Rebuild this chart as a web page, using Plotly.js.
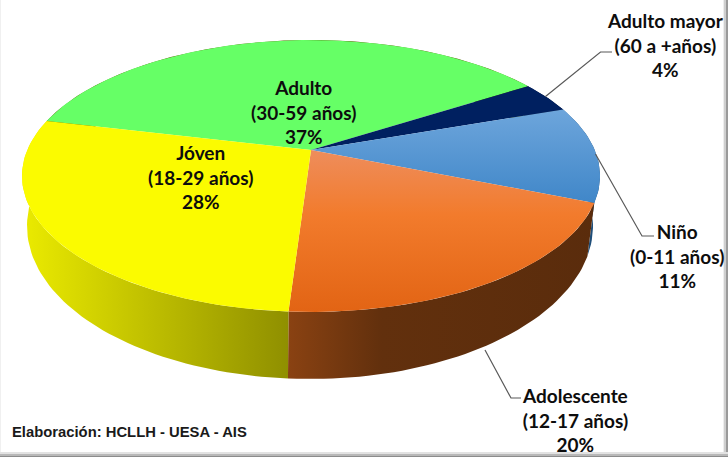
<!DOCTYPE html>
<html><head><meta charset="utf-8">
<script src="https://cdn.plot.ly/plotly-3.0.1.min.js"></script>
<style>html,body{margin:0;padding:0;background:#fff;overflow:hidden}</style>
</head><body><div id="chart" style="width:728px;height:457px"></div>
<script>
// Data, clockwise from the first slice
const categories = ["Adulto mayor", "Niño", "Adolescente", "Jóven", "Adulto"];
const ageRanges  = ["(60 a +años)", "(0-11 años)", "(12-17 años)", "(18-29 años)", "(30-59 años)"];
const shares     = [3.7, 11.45, 19.9, 27.7, 37.25];

// Styles
const topFill = [
  {c:[[0,"#002060"],[1,"#002060"]]},
  {c:[[0,"#6ea6dc"],[1,"#3f86c8"]], s:108, e:205, t:"vertical"},
  {c:[[0,"#ee8d5c"],[0.4,"#f27b2c"],[1,"#e26414"]], s:150, e:312, t:"vertical"},
  {c:[[0,"#fbfb00"],[1,"#fbfb00"]]},
  {c:[[0,"#66ff66"],[1,"#66ff66"]]}
];
const wallFill = [
  {c:[[0,"#001030"],[1,"#001030"]]},
  {c:[[0,"#1f4e79"],[1,"#1f4e79"]]},
  {c:[[0,"#8a4212"],[0.3,"#62300d"],[1,"#5a2c0c"]], s:288, e:600, t:"horizontal"},
  {c:[[0,"#eaea00"],[1,"#8f8f00"]], s:25, e:289, t:"horizontal"},
  {c:[[0,"#5a5a00"],[1,"#5a5a00"]]}
];
const labelX = [665, 677, 575, 200, 303];
const labelY = [45, 256, 420, 177, 112];
const leaders = [
  {x:[545.5,600.5,612], y:[96.5,52,52]},
  {x:[595.5,642,654], y:[154,236,236]},
  {x:[485,511,521], y:[350,398,398]}
];

// Pie geometry: a tilted disc, projected with perspective
const startDeg = 57.5, k = 0.191;
const topDisc = {cx:311, cy:150, a:283.7, b:131};
const botDisc = {cx:310, cy:196.8, a:277.8, b:147.4};
function project(d, deg){
  const t = deg*Math.PI/180, u = Math.sin(t), v = Math.cos(t), w = 1 + k*v;
  return [d.cx + d.a*u/w, d.cy - d.b*v/w];
}
function arc(d, from, to){
  const n = Math.max(2, Math.ceil(Math.abs(to-from)/1.5)), pts = [];
  for(let i=0;i<=n;i++) pts.push(project(d, from + (to-from)*i/n));
  return pts;
}
function fillTrace(pts, f){
  const out = {type:"scatter", mode:"lines", x:pts.map(p=>p[0]), y:pts.map(p=>p[1]),
    fill:"toself", line:{width:0}, hoverinfo:"skip", showlegend:false, fillcolor:f.c[0][1]};
  if(f.t) out.fillgradient = {type:f.t, colorscale:f.c, start:f.s, stop:f.e};
  return out;
}
const total = shares.reduce((a,b)=>a+b,0);
let angle = startDeg;
const spans = shares.map(s=>{const a=[angle, angle+s/total*360]; angle=a[1]; return a;});

const traces = [];
// walls
[4,0,1,2,3].forEach(i=>{
  const [a,b] = spans[i];
  traces.push(fillTrace(arc(topDisc,a,b).concat(arc(botDisc,b,a)), wallFill[i]));
});
// top faces
[4,0,1,2,3].forEach(i=>{
  const [a,b] = spans[i];
  traces.push(fillTrace([[topDisc.cx,topDisc.cy]].concat(arc(topDisc,a,b)), topFill[i]));
});
// leader lines
leaders.forEach(l=>traces.push({type:"scatter",mode:"lines",x:l.x,y:l.y,
  line:{color:"#595959",width:1.2},hoverinfo:"skip",showlegend:false}));

const annotations = categories.map((c,i)=>({
  x:labelX[i], y:labelY[i], xref:"x", yref:"y", showarrow:false, align:"center",
  xanchor:"center", yanchor:"middle",
  text:[c, ageRanges[i], Math.round(shares[i])+"%"].map(t=>"<b>"+t+"</b>").join("<br>"),
  font:{family:"Lato, sans-serif", size:19, color:"#0d0d0d"}
}));
annotations.push({x:9.5,y:432,xref:"x",yref:"y",showarrow:false,xanchor:"left",yanchor:"middle",
  text:"<b>Elaboración: HCLLH - UESA - AIS</b>",
  font:{family:"Liberation Sans, Arial, sans-serif",size:14.8,color:"#1a1a1a"}});

const frame = [
  [0.5,0,0.5,457,"#f0f0f0",1],
  [727,0,727,457,"#9a9a9a",2],
  [725,0,725,457,"#cfcfcf",2],
  [723.5,0,723.5,457,"#eeeeee",1],
  [0,456.5,728,456.5,"#8c8c8c",1],
  [0,455,728,455,"#b8b8b8",2],
  [0,453,728,453,"#e2e2e2",2]
].map(f=>({type:"line",xref:"x",yref:"y",x0:f[0],y0:f[1],x1:f[2],y1:f[3],layer:"above",
  line:{color:f[4],width:f[5]}}));

Plotly.newPlot("chart", traces, {
  width:728, height:457, margin:{l:0,r:0,t:0,b:0},
  paper_bgcolor:"#fff", plot_bgcolor:"#fff",
  xaxis:{range:[0,728],visible:false,fixedrange:true},
  yaxis:{range:[457,0],visible:false,fixedrange:true},
  showlegend:false, annotations:annotations, shapes:frame
},{displayModeBar:false,staticPlot:true});
</script></body></html>
